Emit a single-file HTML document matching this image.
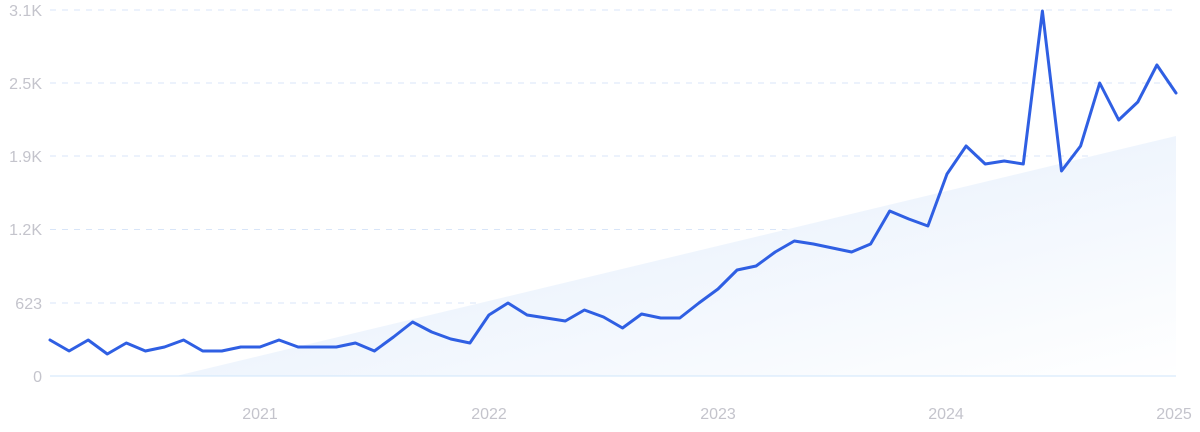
<!DOCTYPE html>
<html><head><meta charset="utf-8"><style>
html,body{margin:0;padding:0;background:#fff;}
svg{display:block;font-family:"Liberation Sans",sans-serif;}
</style></head><body>
<svg width="1200" height="432" viewBox="0 0 1200 432">
<defs>
<linearGradient id="g" x1="0" y1="0" x2="1" y2="1">
<stop offset="0" stop-color="#dfebfb"/>
<stop offset="1" stop-color="#ffffff"/>
</linearGradient>
</defs>
<g stroke="#d8e5f8" stroke-width="1" stroke-dasharray="6,6">
<line x1="50" y1="10" x2="1176" y2="10"/>
<line x1="50" y1="83" x2="1176" y2="83"/>
<line x1="50" y1="156" x2="1176" y2="156"/>
<line x1="50" y1="229.5" x2="1176" y2="229.5"/>
<line x1="50" y1="303" x2="1176" y2="303"/>
</g>
<polygon points="176,376 1176,136 1176,376" fill="url(#g)"/>
<line x1="50" y1="376" x2="1176" y2="376" stroke="#cfe6fb" stroke-width="1"/>
<g fill="#c4c4cc" font-size="16" text-anchor="end">
<text x="42" y="16">3.1K</text>
<text x="42" y="89">2.5K</text>
<text x="42" y="162">1.9K</text>
<text x="42" y="235">1.2K</text>
<text x="42" y="309">623</text>
<text x="42" y="382">0</text>
</g>
<g fill="#c4c4cc" font-size="16" text-anchor="middle">
<text x="260" y="419">2021</text>
<text x="489" y="419">2022</text>
<text x="718" y="419">2023</text>
<text x="946" y="419">2024</text>
<text x="1174" y="419">2025</text>
</g>
<polyline id="L" fill="none" stroke="#2f5fe3" stroke-width="3" stroke-linejoin="round" stroke-linecap="round" points=""/>
<script>
var ys=[340,351,340,354,343,351,347,340,351,351,347,347,340,347,347,347,343,351,337,322,332,339,343,315,303,315,318,321,310,317,328,314,318,318,303,289,270,266,252,241,244,248,252,244,211,219,226,174,146,164,161,164,11,171,146,83,120,102,65,93];
var p=ys.map(function(y,i){return (50+i*1126/59).toFixed(1)+","+y;}).join(" ");
document.getElementById("L").setAttribute("points",p);
</script>
</svg>
</body></html>
